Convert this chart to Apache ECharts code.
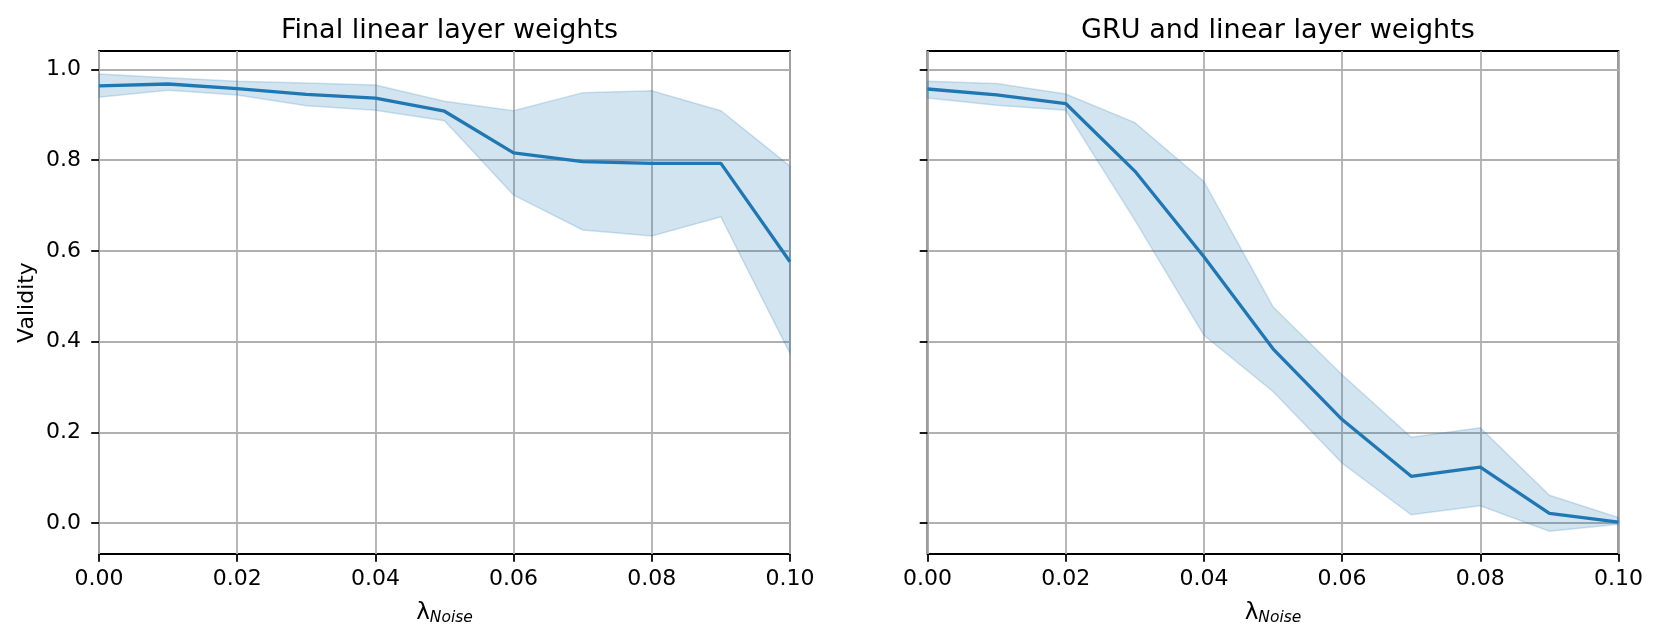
<!DOCTYPE html>
<html>
<head>
<meta charset="utf-8">
<script src="https://cdn.jsdelivr.net/npm/echarts@6/dist/echarts.min.js"></script>
<style>
html,body{margin:0;padding:0;background:#fff;}
#chart{width:1660px;height:640px;}
</style>
</head>
<body>
<div id="chart"></div>
<script>
// ---- data ----
const xs = [0, 0.01, 0.02, 0.03, 0.04, 0.05, 0.06, 0.07, 0.08, 0.09, 0.10];
const xTicks = [0, 0.02, 0.04, 0.06, 0.08, 0.10];
const yTicks = [0, 0.2, 0.4, 0.6, 0.8, 1.0];
const titles = ['Final linear layer weights', 'GRU and linear layer weights'];

const linearMean  = [0.964, 0.968, 0.958, 0.945, 0.937, 0.908, 0.816, 0.797, 0.793, 0.793, 0.576];
const linearUpper = [0.990, 0.982, 0.974, 0.970, 0.966, 0.930, 0.909, 0.949, 0.953, 0.909, 0.787];
const linearLower = [0.939, 0.954, 0.944, 0.920, 0.910, 0.887, 0.723, 0.646, 0.633, 0.675, 0.374];

const gruMean  = [0.957, 0.944, 0.925, 0.776, 0.587, 0.384, 0.228, 0.103, 0.123, 0.021, 0.002];
const gruUpper = [0.974, 0.969, 0.946, 0.883, 0.753, 0.477, 0.327, 0.189, 0.210, 0.061, 0.012];
const gruLower = [0.937, 0.921, 0.910, 0.668, 0.414, 0.290, 0.132, 0.018, 0.038, -0.018, -0.003];

// ---- styling ----
const FONT = 'DejaVu Sans';
const BLUE = '#1f77b4';
const Y_MIN = -0.0684, Y_MAX = 1.0408;

const chart = echarts.init(document.getElementById('chart'), null, {renderer: 'canvas'});

function gridDef(left) {
  return {left: left, top: 51, width: 691, height: 503, show: true,
          borderColor: '#000', borderWidth: 1.8, backgroundColor: 'transparent', containLabel: false};
}

function xAxisDef(idx) {
  return {
    type: 'value', gridIndex: idx, min: 0, max: 0.1, interval: 0.02, position: 'bottom',
    name: '{l|λ}{s|Noise}', nameLocation: 'middle', nameGap: 47,
    nameTextStyle: {
      fontFamily: FONT, color: '#000',
      rich: {
        l: {fontFamily: FONT, fontSize: 23, color: '#000'},
        s: {fontFamily: FONT, fontSize: 15.5, fontStyle: 'italic', color: '#000', padding: [9, 0, 0, 0]}
      }
    },
    axisLine: {show: false, onZero: false},
    axisTick: {show: true, length: 7.8, lineStyle: {color: '#000', width: 1.8}, customValues: xTicks},
    axisLabel: {show: true, margin: 14, fontFamily: FONT, fontSize: 22, color: '#000',
                customValues: xTicks, formatter: v => v.toFixed(2)},
    splitLine: {show: true, lineStyle: {color: '#b0b0b0', width: 1.8}}
  };
}

function yAxisDef(idx, showLabels) {
  const ax = {
    type: 'value', gridIndex: idx, min: Y_MIN, max: Y_MAX, position: 'left',
    axisLine: {show: false, onZero: false},
    axisTick: {show: true, length: 7.8, lineStyle: {color: '#000', width: 1.8}, customValues: yTicks},
    axisLabel: {show: showLabels, margin: 18, fontFamily: FONT, fontSize: 22, color: '#000',
                customValues: yTicks, formatter: v => v.toFixed(1)},
    splitLine: {show: true, lineStyle: {color: '#b0b0b0', width: 1.8}}
  };
  if (showLabels) {
    ax.name = 'Validity';
    ax.nameLocation = 'middle';
    ax.nameGap = 61;
    ax.nameRotate = 90;
    ax.nameTextStyle = {fontFamily: FONT, fontSize: 22, color: '#000'};
  }
  return ax;
}

function bandSeries(idx, lower, upper) {
  return {
    type: 'custom', xAxisIndex: idx, yAxisIndex: idx, z: 1, silent: true,
    data: xs.map((x, i) => [x, lower[i], upper[i]]),
    renderItem: function (params, api) {
      if (params.dataIndex !== 0) return null;
      const pts = [];
      for (let i = 0; i < xs.length; i++) pts.push(api.coord([xs[i], upper[i]]));
      for (let i = xs.length - 1; i >= 0; i--) pts.push(api.coord([xs[i], lower[i]]));
      return {
        type: 'polygon', shape: {points: pts},
        style: {fill: 'rgba(31,119,180,0.2)', stroke: 'rgba(31,119,180,0.2)', lineWidth: 1.5}
      };
    }
  };
}

function lineSeries(idx, mean) {
  return {
    type: 'line', xAxisIndex: idx, yAxisIndex: idx, z: 3,
    data: xs.map((x, i) => [x, mean[i]]),
    symbol: 'none', smooth: false, silent: true,
    lineStyle: {color: BLUE, width: 3.3}, itemStyle: {color: BLUE}
  };
}

const option = {
  animation: false,
  backgroundColor: '#fff',
  title: [
    {text: titles[0], left: 444.5, top: 12, textAlign: 'center',
     textStyle: {fontFamily: FONT, fontSize: 27, fontWeight: 'normal', color: '#000'}},
    {text: titles[1], left: 1273, top: 12, textAlign: 'center',
     textStyle: {fontFamily: FONT, fontSize: 27, fontWeight: 'normal', color: '#000'}}
  ],
  grid: [gridDef(99), gridDef(927.5)],
  xAxis: [xAxisDef(0), xAxisDef(1)],
  yAxis: [yAxisDef(0, true), yAxisDef(1, false)],
  series: [
    bandSeries(0, linearLower, linearUpper),
    lineSeries(0, linearMean),
    bandSeries(1, gruLower, gruUpper),
    lineSeries(1, gruMean)
  ]
};
chart.setOption(option);
</script>
</body>
</html>
